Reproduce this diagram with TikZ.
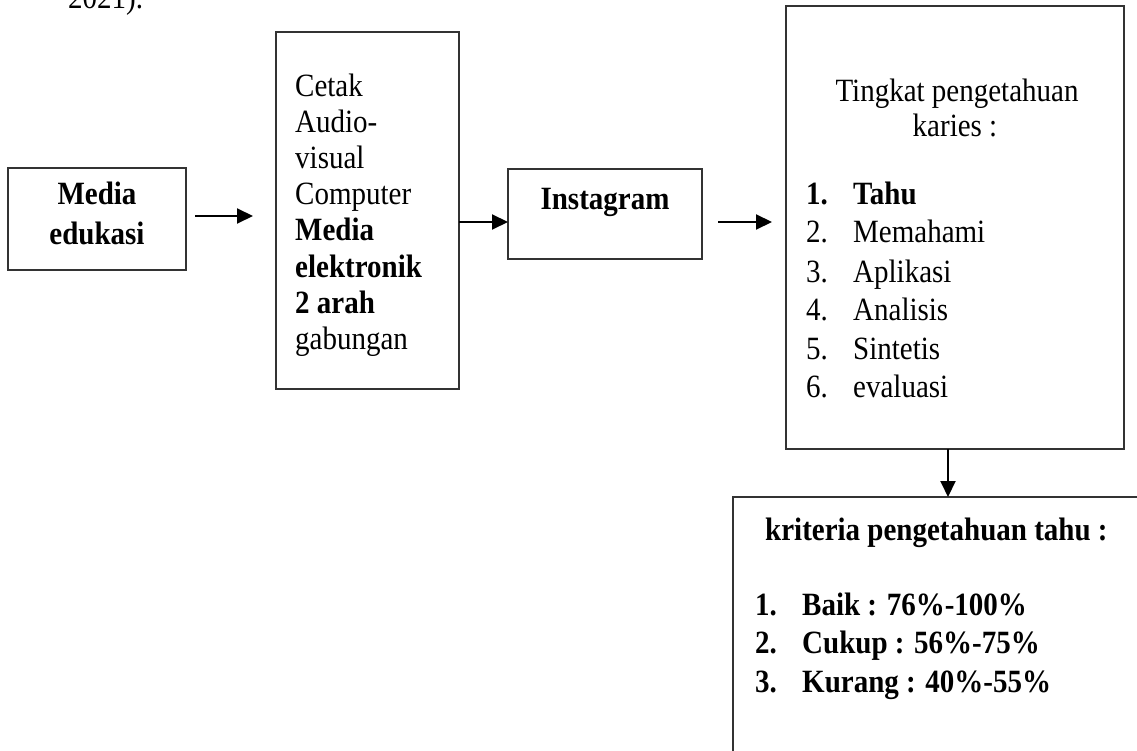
\documentclass[tikz,border=0pt]{standalone}
\usepackage{fontspec}
\setmainfont{Liberation Serif}
\usetikzlibrary{arrows.meta}
\begin{document}
\begin{tikzpicture}[x=1pt,y=-1pt,
  box/.style={draw=black!80, line width=1.2pt, inner sep=0pt, outer sep=0pt},
  arr/.style={line width=2pt, -{Triangle[length=16pt,width=15pt]}},
  txt/.style={inner sep=0pt, font=\fontsize{29}{36}\selectfont, anchor=base west, yscale=1.12, transform shape},
  btxt/.style={txt, font=\fontsize{29}{36}\selectfont\bfseries},
  ctxt/.style={txt, anchor=base},
  cbtxt/.style={btxt, anchor=base}]
\useasboundingbox (0,0) rectangle (1137,751);
\clip (0,0) rectangle (1137,751);
% top text fragment
\node[txt] (prev) at (68,9) {2021).};
% boxes
\node[box, minimum width=178pt, minimum height=102pt] (box1) at (97,219) {};
\node[box, minimum width=183pt, minimum height=357pt] (box2) at (367.5,210.5) {};
\node[box, minimum width=194pt, minimum height=90pt] (box3) at (605,214) {};
\node[box, minimum width=338pt, minimum height=443pt] (box4) at (955,227.5) {};
\node[box, minimum width=427pt, minimum height=283pt] (box5) at (946.5,638.5) {};
% box1 text
\node[cbtxt] (t1a) at (97,205) {Media};
\node[cbtxt] (t1b) at (97,244) {edukasi};
% box2 text
\node[txt] (t2a) at (295,97) {Cetak};
\node[txt] (t2b) at (295,133) {Audio-};
\node[txt] (t2c) at (295,169) {visual};
\node[txt] (t2d) at (295,205) {Computer};
\node[btxt] (t2e) at (295,241) {Media};
\node[btxt] (t2f) at (295,277) {elektronik};
\node[btxt] (t2g) at (295,313) {2 arah};
\node[txt] (t2h) at (295,349) {gabungan};
% box3 text
\node[cbtxt] (t3) at (605,210) {Instagram};
% box4 text
\node[ctxt] (t4a) at (957,102) {Tingkat pengetahuan};
\node[ctxt] (t4b) at (955,137) {karies :};
\node[btxt] (n41) at (806,205) {1.};
\node[btxt] (i41) at (853,205) {Tahu};
\node[txt] (n42) at (806,243) {2.};
\node[txt] (i42) at (853,243) {Memahami};
\node[txt] (n43) at (806,282) {3.};
\node[txt] (i43) at (853,282) {Aplikasi};
\node[txt] (n44) at (806,320) {4.};
\node[txt] (i44) at (853,320) {Analisis};
\node[txt] (n45) at (806,359) {5.};
\node[txt] (i45) at (853,359) {Sintetis};
\node[txt] (n46) at (806,397) {6.};
\node[txt] (i46) at (853,397) {evaluasi};
% box5 text
\node[btxt] (t5) at (765,540) {kriteria pengetahuan tahu :};
\node[btxt] (n51) at (755,615) {1.};
\node[btxt] (i51) at (802,615) {Baik : 76\%-100\%};
\node[btxt] (n52) at (755,653) {2.};
\node[btxt] (i52) at (802,653) {Cukup : 56\%-75\%};
\node[btxt] (n53) at (755,692) {3.};
\node[btxt] (i53) at (802,692) {Kurang : 40\%-55\%};
% connectors
\coordinate (a1s) at (195,216);
\coordinate (a1e) at (253,216);
\draw[arr] (a1s) -- (a1e);
\coordinate (a2) at (480,222);
\draw[arr] (box2.east |- a2) -- (box3.west |- a2);
\coordinate (a3s) at (718,222);
\coordinate (a3e) at (772,222);
\draw[arr] (a3s) -- (a3e);
\coordinate (a4) at (948,470);
\draw[arr] (box4.south -| a4) -- (box5.north -| a4);
\end{tikzpicture}
\end{document}
